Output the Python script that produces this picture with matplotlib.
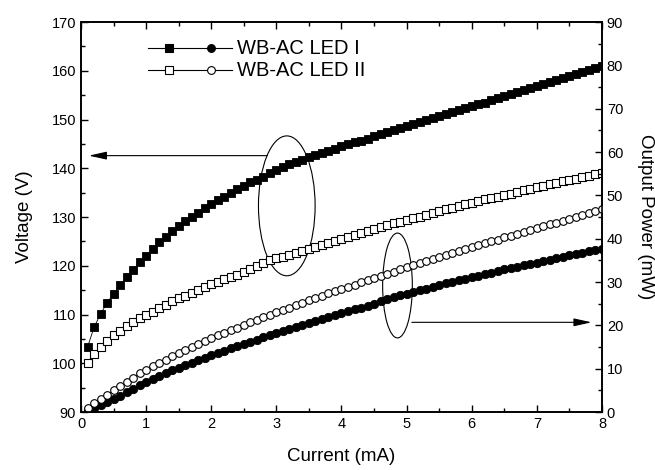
import numpy as np
import matplotlib
matplotlib.use("Agg")
import matplotlib.pyplot as plt
from matplotlib.patches import Ellipse
from matplotlib.ticker import MultipleLocator

plt.rcParams['font.family'] = ['Liberation Sans', 'DejaVu Sans']

# current (mA), one reading every 0.1 mA
current = [round(0.1 * k, 1) for k in range(1, 81)]

# voltage (V) - left axis
volt_led1 = [103.3, 107.4, 110.1, 112.4, 114.3, 116.0, 117.6, 119.2, 120.7, 122.1,
             123.5, 124.8, 126.0, 127.1, 128.1, 129.1, 130.0, 130.9, 131.8, 132.6,
             133.4, 134.2, 135.0, 135.7, 136.4, 137.1, 137.7, 138.3, 139.0, 139.6,
             140.2, 140.8, 141.3, 141.8, 142.3, 142.8, 143.2, 143.6, 144.0, 144.5,
             144.9, 145.3, 145.7, 146.1, 146.6, 147.0, 147.4, 147.8, 148.2, 148.6,
             149.0, 149.4, 149.9, 150.3, 150.7, 151.1, 151.5, 151.9, 152.3, 152.7,
             153.1, 153.5, 154.0, 154.4, 154.8, 155.2, 155.6, 156.0, 156.4, 156.8,
             157.2, 157.7, 158.1, 158.5, 158.9, 159.3, 159.7, 160.1, 160.5, 160.9]
volt_led2 = [100.1, 102.0, 103.4, 104.6, 105.7, 106.7, 107.6, 108.4, 109.2, 109.9,
             110.6, 111.3, 112.0, 112.7, 113.3, 113.9, 114.5, 115.1, 115.7, 116.2,
             116.7, 117.2, 117.7, 118.2, 118.8, 119.4, 120.0, 120.6, 121.1, 121.5,
             121.9, 122.3, 122.7, 123.1, 123.5, 123.9, 124.3, 124.7, 125.1, 125.5,
             125.9, 126.3, 126.7, 127.1, 127.5, 127.9, 128.3, 128.7, 129.0, 129.4,
             129.8, 130.1, 130.5, 130.9, 131.3, 131.6, 131.9, 132.3, 132.6, 132.9,
             133.2, 133.6, 133.9, 134.2, 134.5, 134.8, 135.1, 135.5, 135.8, 136.1,
             136.4, 136.7, 137.0, 137.3, 137.6, 137.9, 138.2, 138.5, 138.8, 139.1]

# output power (mW) - right axis
pow_led1 = [0.4, 1.0, 1.7, 2.4, 3.0, 3.8, 4.6, 5.4, 6.2, 7.0,
            7.7, 8.3, 9.0, 9.6, 10.2, 10.8, 11.4, 12.0, 12.5, 13.1,
            13.6, 14.1, 14.7, 15.2, 15.7, 16.2, 16.7, 17.2, 17.7, 18.2,
            18.7, 19.1, 19.6, 20.1, 20.5, 21.0, 21.5, 21.9, 22.4, 22.8,
            23.2, 23.7, 24.1, 24.5, 25.0, 25.6, 26.0, 26.5, 26.9, 27.3,
            27.7, 28.1, 28.5, 28.9, 29.3, 29.7, 30.0, 30.4, 30.8, 31.1,
            31.5, 31.8, 32.2, 32.5, 32.9, 33.2, 33.5, 33.9, 34.2, 34.5,
            34.9, 35.2, 35.5, 35.8, 36.2, 36.5, 36.8, 37.1, 37.4, 37.7]
pow_led2 = [0.9, 2.0, 3.0, 4.0, 5.0, 5.9, 6.9, 7.9, 8.9, 9.8,
            10.6, 11.4, 12.1, 12.9, 13.6, 14.3, 15.0, 15.7, 16.4, 17.1,
            17.7, 18.3, 18.9, 19.5, 20.1, 20.7, 21.3, 21.9, 22.5, 23.0,
            23.6, 24.1, 24.7, 25.2, 25.8, 26.3, 26.8, 27.4, 27.9, 28.4,
            28.9, 29.4, 29.9, 30.4, 30.9, 31.4, 31.9, 32.4, 32.9, 33.4,
            33.9, 34.4, 34.8, 35.3, 35.8, 36.2, 36.7, 37.1, 37.6, 38.0,
            38.5, 38.9, 39.4, 39.8, 40.3, 40.7, 41.1, 41.6, 42.0, 42.4,
            42.9, 43.3, 43.7, 44.2, 44.6, 45.0, 45.5, 45.9, 46.3, 46.8]

labels = ["WB-AC LED I", "WB-AC LED II"]

fig, ax = plt.subplots(figsize=(6.55, 4.7), dpi=100)
fig.subplots_adjust(left=0.1237, right=0.919, bottom=0.1234, top=0.953)
ax2 = ax.twinx()

ax.plot(current, volt_led1, '-', color='black', lw=0.6, marker='s', ms=6.0,
        mfc='black', mec='black', mew=0.6)
ax.plot(current, volt_led2, '-', color='black', lw=0.6, marker='s', ms=5.2,
        mfc='white', mec='black', mew=0.8)
ax2.plot(current, pow_led1, '-', color='black', lw=0.6, marker='o', ms=6.0,
         mfc='black', mec='black', mew=0.6)
ax2.plot(current, pow_led2, '-', color='black', lw=0.6, marker='o', ms=5.5,
         mfc='white', mec='black', mew=0.8)

ax.set_xlim(0, 8)
ax.set_ylim(90, 170)
ax2.set_ylim(0, 90)

ax.xaxis.set_major_locator(MultipleLocator(1))
ax.xaxis.set_minor_locator(MultipleLocator(0.5))
ax.yaxis.set_major_locator(MultipleLocator(10))
ax.yaxis.set_minor_locator(MultipleLocator(5))
ax2.yaxis.set_major_locator(MultipleLocator(10))
ax2.yaxis.set_minor_locator(MultipleLocator(5))

ax.tick_params(which='both', direction='in', top=True, right=False, width=1, labelsize=10.5)
ax.tick_params(which='major', length=5)
ax.tick_params(which='minor', length=3)
ax2.tick_params(which='both', direction='in', width=1, labelsize=10.5)
ax2.tick_params(which='major', length=5)
ax2.tick_params(which='minor', length=3)
for a in (ax, ax2):
    for s in a.spines.values():
        s.set_linewidth(1.2)

ax.set_xlabel("Current (mA)", fontsize=13.5, labelpad=12)
ax.set_ylabel("Voltage (V)", fontsize=13.5, labelpad=13)
ax2.set_ylabel("Output Power (mW)", fontsize=13.5, rotation=270, labelpad=22)

# legend drawn by hand: line with square and circle
leg_y = [0.933, 0.877]
fills = ['black', 'white']
for y, fc, lab in zip(leg_y, fills, labels):
    ax.plot([0.129, 0.29], [y, y], color='black', lw=0.8, transform=ax.transAxes)
    ax.plot([0.169], [y], 's', ms=6.0 if fc == 'black' else 5.2, mfc=fc, mec='black',
            mew=0.8, transform=ax.transAxes)
    ax.plot([0.250], [y], 'o', ms=5.6, mfc=fc, mec='black', mew=0.8, transform=ax.transAxes)
    ax.text(0.30, y, lab, fontsize=14.5, va='center', ha='left', transform=ax.transAxes)

# ellipses and arrows pointing to the axes
ax.add_patch(Ellipse((3.16, 132.3), 0.87, 28.7, fill=False, lw=0.8, ec='black'))
ax.annotate("", xy=(0.12, 142.6), xytext=(2.86, 142.6),
            arrowprops=dict(arrowstyle='-|>,head_length=0.9,head_width=0.2',
                            lw=0.8, color='black', shrinkA=0, shrinkB=0, mutation_scale=12))
ax2.add_patch(Ellipse((4.86, 29.2), 0.456, 24.2, fill=False, lw=0.8, ec='black'))
ax2.annotate("", xy=(7.84, 20.7), xytext=(5.08, 20.7),
             arrowprops=dict(arrowstyle='-|>,head_length=0.9,head_width=0.2',
                             lw=0.8, color='black', shrinkA=0, shrinkB=0, mutation_scale=12))

fig.savefig("out.png", dpi=100)
